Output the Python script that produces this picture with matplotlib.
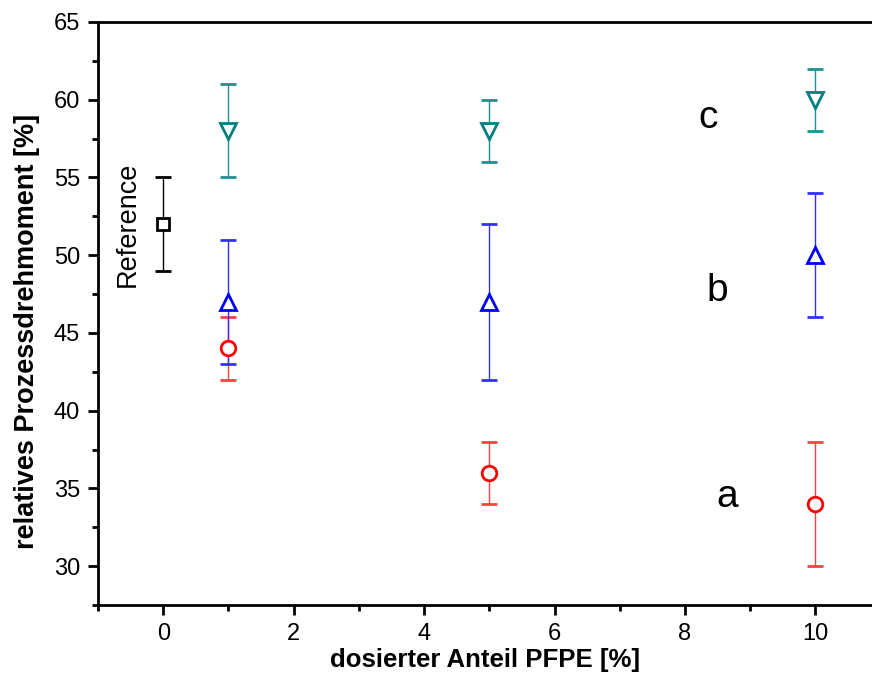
import matplotlib
matplotlib.use("Agg")
import matplotlib.pyplot as plt
from matplotlib.ticker import MultipleLocator

plt.rcParams['font.family'] = ['Liberation Sans', 'DejaVu Sans']

ref_x = [0]
ref_y = [52]
ref_err = [3]

x = [1, 5, 10]
a_y = [44, 36, 34]
a_err = [2, 2, 4]
b_y = [47, 47, 50]
b_err = [4, 5, 4]
c_y = [58, 58, 60]
c_err_lo = [3, 2, 2]
c_err_hi = [3, 2, 2]

fig = plt.figure(figsize=(8.72, 6.9), dpi=100)
ax = fig.add_axes([98/872, 1-605/690, 1-98/872 + 0.01, (605-22)/690])

kw = dict(linestyle='none', markerfacecolor='white',
          markeredgewidth=2, elinewidth=1, capsize=6, capthick=0.8)
ax.errorbar(ref_x, ref_y, yerr=ref_err, marker='s', color='black', markersize=8.5, **kw)
ax.errorbar(x, a_y, yerr=a_err, marker='o', color='#ff0000', ecolor='#ff4040', markersize=10.5, **kw)
ax.errorbar(x, b_y, yerr=b_err, marker='^', color='#0000ff', ecolor='#3030ff', markersize=11.5, **kw)
ax.errorbar(x, c_y, yerr=[c_err_lo, c_err_hi], marker='v', color='#008080', ecolor='#209090', markersize=11.5, **kw)

ax.set_xlim(-1, 11)
ax.set_ylim(27.5, 65)
ax.xaxis.set_major_locator(MultipleLocator(2))
ax.xaxis.set_minor_locator(MultipleLocator(1))
ax.yaxis.set_major_locator(MultipleLocator(5))
ax.yaxis.set_minor_locator(MultipleLocator(2.5))
ax.tick_params(axis='both', which='major', direction='out', length=7, width=2, labelsize=17, pad=6)
ax.tick_params(axis='both', which='minor', direction='out', length=4, width=2)
ax.tick_params(top=False, right=False)
for s in ['left', 'bottom', 'top']:
    ax.spines[s].set_linewidth(2)
ax.spines['right'].set_visible(False)

ax.text(-0.54, 52, 'Reference', rotation=90, ha='center', va='center', fontsize=19.5)
ax.text(8.35, 58.17, 'c', ha='center', va='baseline', fontsize=28)
ax.text(8.50, 47.08, 'b', ha='center', va='baseline', fontsize=28)
ax.text(8.65, 33.8, 'a', ha='center', va='baseline', fontsize=28)

fig.text(485/872, 1-660/690, 'dosierter Anteil PFPE [%]', ha='center', va='center', fontsize=18.5, fontweight='bold')
fig.text(27/872, 1-331/690, 'relatives Prozessdrehmoment [%]', rotation=90, ha='center', va='center', fontsize=19.5, fontweight='bold')

fig.savefig('out.png', dpi=100)
